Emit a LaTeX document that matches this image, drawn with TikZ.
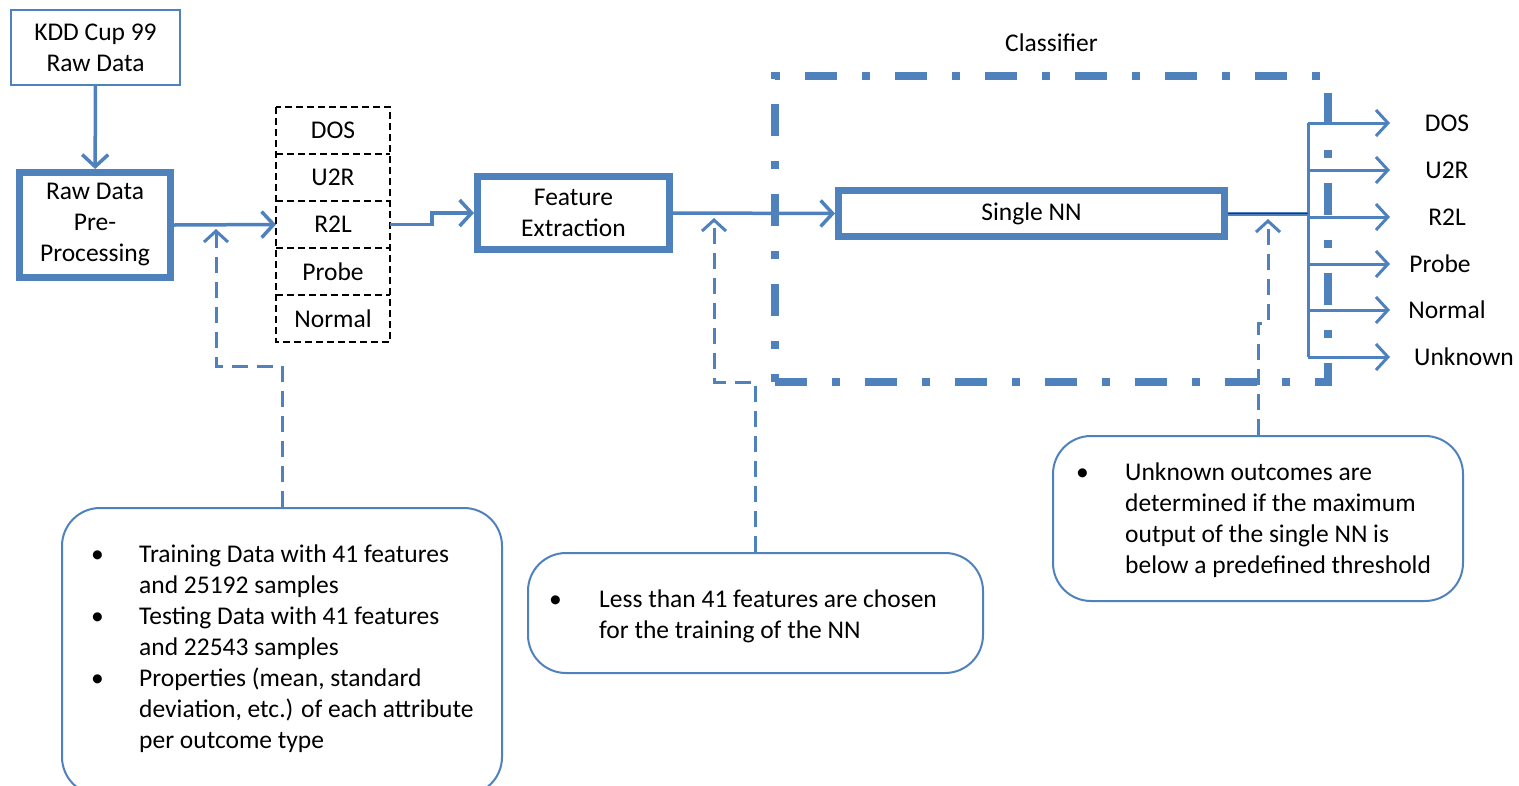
\documentclass[tikz,border=0pt]{standalone}
\usepackage{fontspec}
\setmainfont{Carlito}
\usetikzlibrary{arrows.meta,positioning}
\definecolor{ofblue}{RGB}{79,129,189}

\begin{document}
\begin{tikzpicture}[x=1pt,y=-1pt,
	every node/.style={font=\fontsize{25.5}{31}\selectfont},
	thinbox/.style={draw=ofblue, line width=2pt, align=center, inner sep=0pt},
	thickbox/.style={draw=ofblue, line width=7pt, align=center, inner sep=0pt},
	cell/.style={minimum width=114pt, minimum height=47pt, inner sep=0pt, outer sep=0pt},
	celline/.style={draw=black, line width=1.5pt, dash pattern=on 7pt off 4pt},
	clsbox/.style={draw=ofblue, line width=8pt, dash pattern=on 32pt off 25pt on 8pt off 25pt},
	bubble/.style={draw=ofblue, line width=2pt, rounded corners=38pt},
	bubtext/.style={anchor=base west, inner sep=0pt},
	conn/.style={draw=ofblue, line width=3.5pt, -{Straight Barb[length=12pt,width=26pt]}},
	dconn/.style={draw=ofblue, line width=3pt, dash pattern=on 16pt off 9pt, -{Straight Barb[length=11pt,width=24pt]}}]
	\clip (0,0) rectangle (1519,785);

	\node[thinbox, minimum width=169pt, minimum height=75pt] (kdd) at (95.5,47.5) {KDD Cup 99\\Raw Data};
	\node[thickbox, minimum width=151pt, minimum height=105pt] (pre) at (95,225) {Raw Data\\Pre-\\Processing};

	% outcome stack
	\node[cell] (dos) at (333,130.5) {DOS};
	\node[cell, below=0pt of dos] (u2r) {U2R};
	\node[cell, below=0pt of u2r] (r2l) {R2L};
	\node[cell, below=0pt of r2l] (probe) {Probe};
	\node[cell, below=0pt of probe] (normal) {Normal};
	\draw[celline] (dos.north west) rectangle (normal.south east);
	\foreach \c in {dos,u2r,r2l,probe}
		\draw[celline] (\c.south west) -- (\c.south east);

	\node[thickbox, minimum width=192pt, minimum height=73pt] (feat) at (573.5,213) {Feature\\Extraction};
	\node[thickbox, minimum width=386pt, minimum height=46pt] (nn) at (1031.5,213.5) {Single NN};

	% classifier frame
	\node[clsbox, minimum width=553pt, minimum height=306pt] (cls) at (1051.5,229) {};
	\node[inner sep=0pt, above=20pt of cls] (clsname) {Classifier};

	\path[conn] (kdd) -- (pre);
	\path[conn] (pre.east) -- (r2l.west);
	\path[conn] (r2l.east) -- ++(42,0) |- (feat.west);
	\path[conn] (feat.east) -- (nn.west);

	% outputs
	\coordinate (btop) at (1308,123);
	\coordinate (bbot) at (1308,357);
	\draw[ofblue, line width=3pt] (btop) -- (bbot);
	\foreach \lbl/\y/\dx in {DOS/123/0, U2R/170/0, R2L/217/0, Probe/264/-7, Normal/310/0, Unknown/357/17} {
		\coordinate (b-\lbl) at (1308,\y);
		\coordinate (e-\lbl) at (1390,\y);
		\node (out-\lbl) at (1447+\dx,\y) {\lbl};
		\path[conn, line width=3pt] (b-\lbl) -- (e-\lbl);
	}
	\draw[ofblue, line width=4pt] (nn.east) -- (nn.east -| btop);
	\draw[black!80, line width=1.5pt] (nn.east) -- (nn.east -| btop);

	% notes
	\node[bubble, minimum width=440pt, minimum height=287pt] (bub1) at (282,651.5) {};
	\node[bubble, minimum width=455pt, minimum height=120pt] (bub2) at (755.5,613) {};
	\node[bubble, minimum width=410pt, minimum height=165pt] (bub3) at (1258,518.5) {};

	\node[bubtext] (txt1) at (91,562) {\begin{tabular}[t]{@{}p{48pt}@{}l@{}}
		\textbullet & Training Data with 41 features\\
		 & and 25192 samples\\
		\textbullet & Testing Data with 41 features\\
		 & and 22543 samples\\
		\textbullet & Properties (mean, standard\\
		 & deviation, etc.) of each attribute\\
		 & per outcome type
	\end{tabular}};
	\node[bubtext] (txt2) at (549,607) {\begin{tabular}[t]{@{}p{50pt}@{}l@{}}
		\textbullet & Less than 41 features are chosen\\
		 & for the training of the NN
	\end{tabular}};
	\node[bubtext] (txt3) at (1076,480) {\begin{tabular}[t]{@{}p{49pt}@{}l@{}}
		\textbullet & Unknown outcomes are\\
		 & determined if the maximum\\
		 & output of the single NN is\\
		 & below a predefined threshold
	\end{tabular}};

	\coordinate (tap1) at (216,229);
	\coordinate (tap2) at (714,218);
	\coordinate (tap3) at (1268,219);
	\path[dconn] (bub1.north) -- ++(0,-141) -| (tap1);
	\path[dconn] (bub2.north) -- ++(0,-170) -| (tap2);
	\path[dconn] (bub3.north) -- ++(0,-112) -| (tap3);
\end{tikzpicture}
\end{document}
